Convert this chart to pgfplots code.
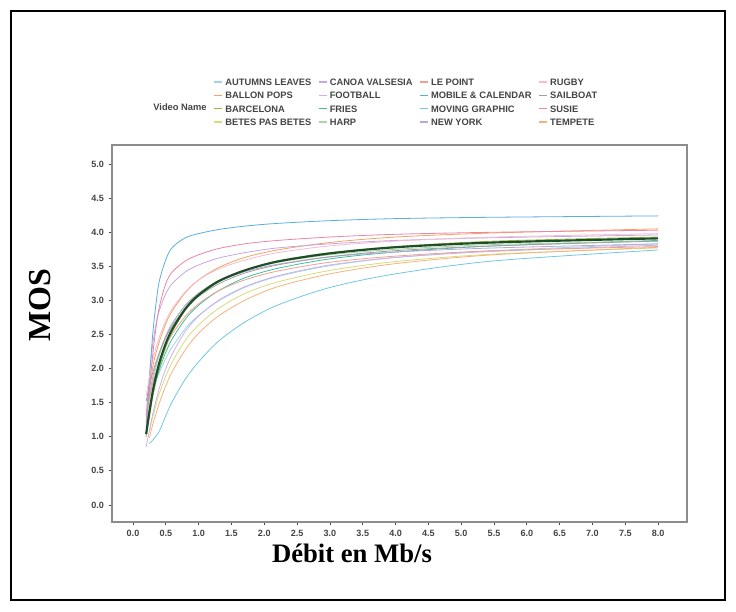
\documentclass[border=0pt]{standalone}
\usepackage{fontspec}
\setmainfont{Liberation Serif}
\newfontfamily\lsans{Liberation Sans}
\usepackage{pgfplots}
\pgfplotsset{compat=1.18}
\definecolor{ticktext}{HTML}{444444}
\definecolor{cAutumn}{HTML}{9FD3E8}
\definecolor{cBallon}{HTML}{F4A460}
\definecolor{cBarca}{HTML}{9BBB3B}
\definecolor{cBetes}{HTML}{D8DC7A}
\definecolor{cCanoa}{HTML}{C4A8E4}
\definecolor{cFoot}{HTML}{CDB2EA}
\definecolor{cFries}{HTML}{3CBFA0}
\definecolor{cHarp}{HTML}{A8D8A0}
\definecolor{cPoint}{HTML}{F0A090}
\definecolor{cMobile}{HTML}{5AAEE0}
\definecolor{cMoving}{HTML}{70C8E4}
\definecolor{cNY}{HTML}{B8A8D8}
\definecolor{cRugby}{HTML}{F6BCD0}
\definecolor{cSail}{HTML}{A0A0A0}
\definecolor{cSusie}{HTML}{EC86A6}
\definecolor{cTemp}{HTML}{F6B27A}
\definecolor{cMean}{HTML}{1E4D2B}
\begin{document}
\begin{tikzpicture}
\useasboundingbox (0,0) rectangle (552pt,458.25pt);
\draw[line width=1.5pt] (8.25pt,8.25pt) rectangle (543.75pt,450pt);
\begin{axis}[
  at={(84pt,66.75pt)}, anchor=south west,
  scale only axis, width=431.25pt, height=282.75pt,
  xmin=-0.32, xmax=8.44, ymin=-0.25, ymax=5.28,
  xtick={0,0.5,1,1.5,2,2.5,3,3.5,4,4.5,5,5.5,6,6.5,7,7.5,8},
  ytick={0,0.5,1,1.5,2,2.5,3,3.5,4,4.5,5},
  tick pos=left, tick align=outside,
  major tick length=2.5pt,
  tick style={color=ticktext, line width=0.6pt},
  axis line style={color=black!45, line width=0.8pt},
  /pgf/number format/.cd, fixed, fixed zerofill, precision=1, assume math mode=true,
  /pgfplots/.cd,
  ticklabel style={font=\lsans\bfseries\fontsize{6.8}{7}\selectfont, text=ticktext},
  xticklabel style={yshift=0pt},
  legend style={draw=none, fill=none, at={(axis description cs:0.176,1.18)}, anchor=north west,
    font=\lsans\bfseries\fontsize{7}{8}\selectfont, text=ticktext,
    inner sep=0pt, row sep=3pt,
    nodes={inner sep=1pt, text height=5pt, text depth=0pt},
    /tikz/every odd column/.append style={column sep=1pt},
    /tikz/every even column/.append style={column sep=4pt}},
  legend cell align=left,
  legend image code/.code={\draw[#1, line width=0.9pt] (0pt,0pt) -- (6pt,0pt);},
  transpose legend, legend columns=4,
  every axis plot/.append style={smooth, line width=0.6pt, no markers},
]
% AUTUMNS LEAVES
\addplot[cAutumn] coordinates {(0.2,1.2)(0.3,1.68)(0.4,1.94)(0.5,2.15)(0.6,2.32)(0.8,2.59)(1.0,2.78)(1.3,2.99)(1.7,3.19)(2.2,3.35)(3.0,3.51)(4.0,3.63)(5.5,3.73)(8.0,3.83)};
\addlegendentry{AUTUMNS LEAVES}
% BALLON POPS
\addplot[cBallon] coordinates {(0.2,1.3)(0.3,2.02)(0.4,2.39)(0.5,2.66)(0.6,2.85)(0.8,3.12)(1.0,3.30)(1.3,3.48)(1.7,3.63)(2.2,3.74)(3.0,3.85)(4.0,3.93)(5.5,3.99)(8.0,4.05)};
\addlegendentry{BALLON POPS}
% BARCELONA
\addplot[cBarca] coordinates {(0.2,1.0)(0.3,1.58)(0.4,2.01)(0.5,2.31)(0.6,2.54)(0.8,2.86)(1.0,3.06)(1.3,3.27)(1.7,3.44)(2.2,3.58)(3.0,3.70)(4.0,3.79)(5.5,3.87)(8.0,3.93)};
\addlegendentry{BARCELONA}
% BETES PAS BETES
\addplot[cBetes] coordinates {(0.25,1.08)(0.3,1.29)(0.4,1.63)(0.5,1.89)(0.6,2.10)(0.8,2.42)(1.0,2.64)(1.3,2.88)(1.7,3.10)(2.2,3.27)(3.0,3.44)(4.0,3.57)(5.5,3.68)(8.0,3.77)};
\addlegendentry{BETES PAS BETES}
% CANOA VALSESIA
\addplot[cCanoa] coordinates {(0.2,1.3)(0.25,1.9)(0.3,2.35)(0.35,2.65)(0.4,2.85)(0.5,3.1)(0.6,3.25)(0.8,3.42)(1.0,3.52)(1.3,3.62)(1.7,3.7)(2.2,3.77)(3.0,3.83)(4.0,3.88)(5.5,3.92)(8.0,3.96)};
\addlegendentry{CANOA VALSESIA}
% FOOTBALL
\addplot[cFoot] coordinates {(0.2,0.85)(0.3,1.33)(0.4,1.71)(0.5,2.0)(0.6,2.22)(0.8,2.55)(1.0,2.77)(1.3,3.0)(1.7,3.2)(2.2,3.36)(3.0,3.52)(4.0,3.63)(5.5,3.72)(8.0,3.81)};
\addlegendentry{FOOTBALL}
% FRIES
\addplot[cFries] coordinates {(0.2,1.15)(0.3,1.63)(0.4,1.98)(0.5,2.24)(0.6,2.44)(0.8,2.73)(1.0,2.93)(1.3,3.14)(1.7,3.33)(2.2,3.47)(3.0,3.61)(4.0,3.71)(5.5,3.80)(8.0,3.88)};
\addlegendentry{FRIES}
% HARP
\addplot[cHarp] coordinates {(0.2,1.24)(0.3,1.81)(0.4,2.19)(0.5,2.46)(0.6,2.65)(0.8,2.93)(1.0,3.11)(1.3,3.29)(1.7,3.44)(2.2,3.56)(3.0,3.67)(4.0,3.75)(5.5,3.82)(8.0,3.87)};
\addlegendentry{HARP}
% LE POINT
\addplot[cPoint] coordinates {(0.2,1.35)(0.3,1.78)(0.4,2.09)(0.5,2.33)(0.6,2.51)(0.8,2.77)(1.0,2.95)(1.3,3.14)(1.7,3.30)(2.2,3.43)(3.0,3.56)(4.0,3.65)(5.5,3.73)(8.0,3.79)};
\addlegendentry{LE POINT}
% MOBILE & CALENDAR
\addplot[cMobile] coordinates {(0.2,1.1)(0.25,1.85)(0.3,2.5)(0.35,2.95)(0.4,3.28)(0.5,3.6)(0.6,3.78)(0.8,3.92)(1.0,3.98)(1.3,4.04)(1.7,4.09)(2.2,4.13)(3.0,4.17)(4.0,4.2)(5.5,4.22)(8.0,4.24)};
\addlegendentry{MOBILE \& CALENDAR}
% MOVING GRAPHIC
\addplot[cMoving] coordinates {(0.25,0.9)(0.3,0.95)(0.4,1.08)(0.5,1.31)(0.6,1.52)(0.8,1.85)(1.0,2.10)(1.3,2.40)(1.7,2.68)(2.2,2.93)(3.0,3.19)(4.0,3.39)(5.5,3.58)(8.0,3.74)};
\addlegendentry{MOVING GRAPHIC}
% NEW YORK
\addplot[cNY] coordinates {(0.2,1.32)(0.3,1.87)(0.4,2.23)(0.5,2.48)(0.6,2.67)(0.8,2.93)(1.0,3.10)(1.3,3.27)(1.7,3.42)(2.2,3.53)(3.0,3.64)(4.0,3.71)(5.5,3.77)(8.0,3.83)};
\addlegendentry{NEW YORK}
% RUGBY
\addplot[cRugby] coordinates {(0.2,1.6)(0.3,2.12)(0.4,2.46)(0.5,2.70)(0.6,2.88)(0.8,3.13)(1.0,3.30)(1.3,3.46)(1.7,3.59)(2.2,3.70)(3.0,3.80)(4.0,3.87)(5.5,3.93)(8.0,3.98)};
\addlegendentry{RUGBY}
% SAILBOAT
\addplot[cSail] coordinates {(0.2,1.52)(0.3,1.94)(0.4,2.23)(0.5,2.46)(0.6,2.63)(0.8,2.88)(1.0,3.06)(1.3,3.24)(1.7,3.40)(2.2,3.52)(3.0,3.64)(4.0,3.73)(5.5,3.80)(8.0,3.87)};
\addlegendentry{SAILBOAT}
% SUSIE
\addplot[cSusie] coordinates {(0.2,1.2)(0.25,1.7)(0.3,2.2)(0.35,2.6)(0.4,2.9)(0.5,3.25)(0.6,3.42)(0.8,3.58)(1.0,3.67)(1.3,3.76)(1.7,3.83)(2.2,3.88)(3.0,3.93)(4.0,3.97)(5.5,4.0)(8.0,4.03)};
\addlegendentry{SUSIE}
% TEMPETE
\addplot[cTemp] coordinates {(0.25,0.98)(0.3,1.18)(0.4,1.49)(0.5,1.75)(0.6,1.96)(0.8,2.28)(1.0,2.52)(1.3,2.77)(1.7,3.0)(2.2,3.20)(3.0,3.39)(4.0,3.54)(5.5,3.67)(8.0,3.78)};
\addlegendentry{TEMPETE}
% mean
\addplot[cMean, line width=1.6pt, forget plot] coordinates {(0.2,1.04)(0.3,1.66)(0.4,2.08)(0.5,2.37)(0.6,2.58)(0.8,2.88)(1.0,3.08)(1.3,3.28)(1.7,3.44)(2.2,3.57)(3.0,3.69)(4.0,3.78)(5.5,3.85)(8.0,3.91)};
\end{axis}
\node[font=\lsans\bfseries\fontsize{7}{8}\selectfont, text=ticktext] at (135pt,378pt) {Video Name};
\node[font=\bfseries\fontsize{24}{28}\selectfont, rotate=90] at (30pt,229.5pt) {MOS};
\node[font=\bfseries\fontsize{20}{24}\selectfont] at (264pt,43.5pt) {Débit en Mb/s};
\end{tikzpicture}
\end{document}
